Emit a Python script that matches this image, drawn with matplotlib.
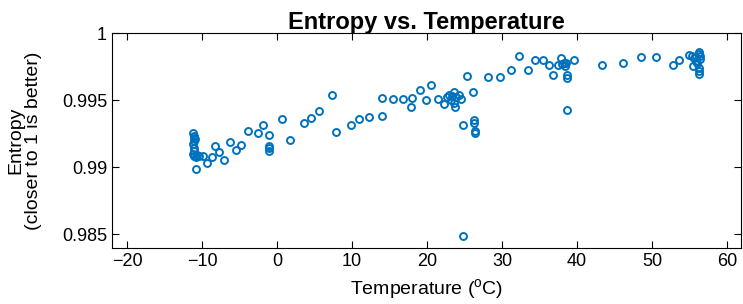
import matplotlib
matplotlib.use("Agg")
import matplotlib.pyplot as plt
import numpy as np

plt.rcParams['font.family'] = ['Liberation Sans', 'DejaVu Sans']
plt.rcParams['mathtext.fontset'] = 'custom'
plt.rcParams['mathtext.rm'] = 'Liberation Sans'

temperature = [
    -11.2, -11.1, -11.0, -10.9, -11.2, -11.1, -11.0, -11.2, -11.0, -10.8,
    -10.8, -10.4, -9.8, -9.3, -8.7, -8.2, -7.7, -7.0, -6.3, -5.5,
    -4.8, -3.8, -2.55, -1.8, -1.1, -1.1, -1.1, -1.1, 0.66, 1.67,
    3.56, 4.5, 5.57, 7.4, 7.84, 9.92, 10.87, 12.25, 13.95, 13.95,
    15.53, 16.79, 17.8, 18.05, 19.06, 19.8, 20.57, 21.4, 22.2, 22.6,
    22.96, 23.3, 23.6, 23.6, 23.7, 24.2, 24.5, 24.8, 24.85, 26.1,
    25.35, 26.3, 26.3, 26.35, 26.35, 28.1, 29.76, 31.15, 32.3, 33.5,
    34.4, 35.4, 36.2, 36.8, 37.45, 37.8, 38.2, 38.4, 38.5, 38.6,
    38.7, 38.6, 39.65, 43.3, 46.1, 48.5, 50.5, 52.8, 53.6, 54.9,
    55.3, 55.6, 55.5, 55.9, 56.0, 56.2, 56.2, 56.2, 56.3, 56.3,
    56.35, 56.35, -11.0, -10.6, 23.2, 23.9, 38.0, 55.8,
]
entropy = [
    0.99257, 0.99233, 0.99220, 0.99208, 0.99171, 0.99146, 0.99121, 0.99097, 0.99084, 0.99072,
    0.98985, 0.99084, 0.99084, 0.99030, 0.99077, 0.99158, 0.99114, 0.99050, 0.99188, 0.99129,
    0.99168, 0.99267, 0.99252, 0.99312, 0.99238, 0.99158, 0.99141, 0.99121, 0.99361, 0.99205,
    0.99332, 0.99364, 0.99418, 0.99542, 0.99262, 0.99317, 0.99361, 0.99374, 0.99517, 0.99381,
    0.99505, 0.99505, 0.99448, 0.99515, 0.99572, 0.99500, 0.99614, 0.99505, 0.99468, 0.99522,
    0.99542, 0.99530, 0.99562, 0.99480, 0.99448, 0.99542, 0.99510, 0.99317, 0.98485, 0.99560,
    0.99683, 0.99349, 0.99332, 0.99270, 0.99257, 0.99673, 0.99673, 0.99723, 0.99827, 0.99723,
    0.99802, 0.99802, 0.99760, 0.99691, 0.99760, 0.99812, 0.99777, 0.99752, 0.99777, 0.99688,
    0.99668, 0.99426, 0.99800, 0.99762, 0.99777, 0.99822, 0.99824, 0.99765, 0.99797, 0.99839,
    0.99832, 0.99814, 0.99757, 0.99790, 0.99777, 0.99740, 0.99715, 0.99693, 0.99861, 0.99847,
    0.99827, 0.99807, 0.99195, 0.99090, 0.99500, 0.99520, 0.99770, 0.99825,
]

xticks = [-20, -10, 0, 10, 20, 30, 40, 50, 60]
yticks = [0.985, 0.99, 0.995, 1.0]
ytick_labels = ['0.985', '0.99', '0.995', '1']

fig = plt.figure(figsize=(7.43, 3.04), dpi=100)
ax = fig.add_axes([0.1507, 0.184, 0.846, 0.707])

ax.plot(temperature, entropy, linestyle='none', marker='o', markersize=5,
        markerfacecolor='none', markeredgecolor='#0072BD', markeredgewidth=1.4)

ax.set_xlim(-22, 61.8)
ax.set_ylim(0.98396, 1.0)
ax.set_xticks(xticks)
ax.set_xticklabels([str(t).replace('-', '\u2212') for t in xticks])
ax.set_yticks(yticks)
ax.set_yticklabels(ytick_labels)
ax.tick_params(direction='in', top=True, right=True, labelsize=13, length=5, width=0.8)
for s in ax.spines.values():
    s.set_linewidth(0.8)

ax.set_title('Entropy vs. Temperature', fontsize=17, fontweight='bold', pad=3)
ax.set_xlabel('Temperature ($^{\\mathrm{o}}$C)', fontsize=14, labelpad=5)
ax.set_ylabel('Entropy\n(closer to 1 is better)', fontsize=14, linespacing=1.0)
ax.yaxis.set_label_coords(-0.112, 0.5)

fig.savefig('out.png', dpi=100)
